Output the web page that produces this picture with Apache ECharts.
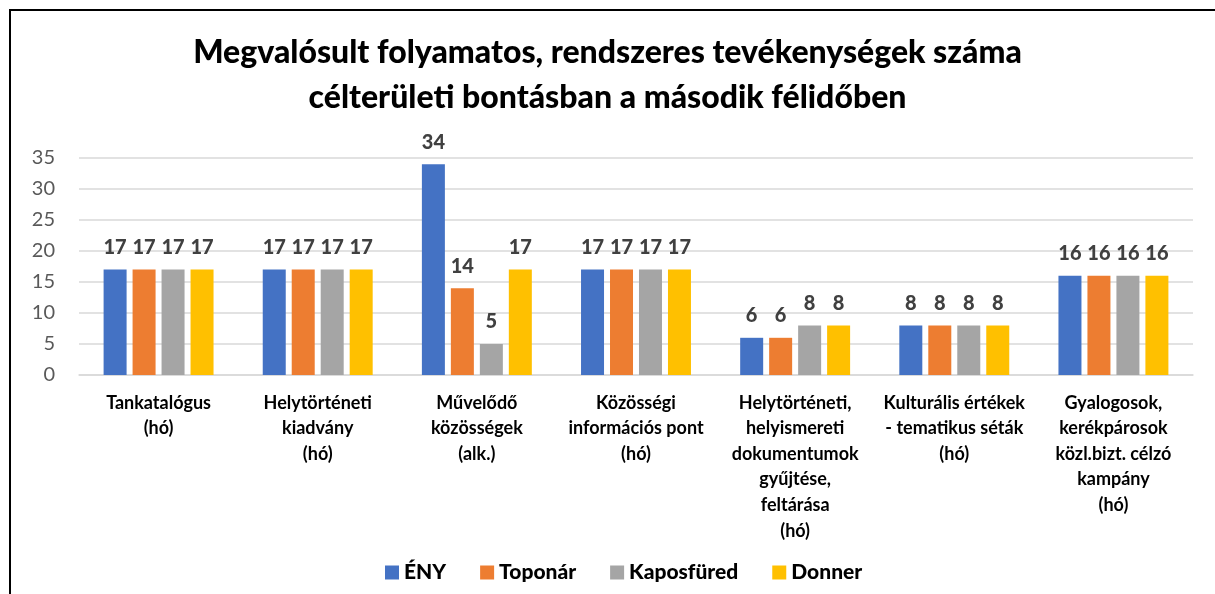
<!DOCTYPE html>
<html>
<head>
<meta charset="utf-8">
<script src="https://cdn.jsdelivr.net/npm/echarts@6/dist/echarts.min.js"></script>
<style>
  body { margin: 0; background: #fff; }
  #frame { position: absolute; left: 9px; top: 9px; width: 1210px; height: 600px; border: 2px solid #000; box-sizing: border-box; }
  #chart { position: absolute; left: 0; top: 0; width: 1215px; height: 594px; }
</style>
</head>
<body>
<div id="frame"></div>
<div id="chart"></div>
<script>
const categories = [
  'Tankatalógus\n(hó)',
  'Helytörténeti\nkiadvány\n(hó)',
  'Művelődő\nközösségek\n(alk.)',
  'Közösségi\ninformációs pont\n(hó)',
  'Helytörténeti,\nhelyismereti\ndokumentumok\ngyűjtése,\nfeltárása\n(hó)',
  'Kulturális értékek\n- tematikus séták\n(hó)',
  'Gyalogosok,\nkerékpárosok\nközl.bizt. célzó\nkampány\n(hó)'
]
const eny = [17, 17, 34, 17, 6, 8, 16]
const toponar = [17, 17, 14, 17, 6, 8, 16]
const kaposfured = [17, 17, 5, 17, 8, 8, 16]
const donner = [17, 17, 17, 17, 8, 8, 16]

const font = 'Lato, "Open Sans", sans-serif'

function bar(name, data, color) {
  return {
    name: name,
    type: 'bar',
    data: data,
    barWidth: 23,
    barGap: '26%',
    itemStyle: { color: color },
    label: {
      show: true,
      position: 'top',
      distance: 12,
      color: '#404040',
      fontFamily: font,
      fontWeight: 900,
      fontSize: 20
    }
  }
}

const chart = echarts.init(document.getElementById('chart'))
const option = {
  animation: false,
  textStyle: { fontFamily: font },
  title: {
    text: 'Megvalósult folyamatos, rendszeres tevékenységek száma\ncélterületi bontásban a második félidőben',
    left: 'center',
    top: 25,
    textStyle: {
      fontFamily: font,
      fontWeight: 900,
      fontSize: 32,
      lineHeight: 45,
      color: '#000'
    }
  },
  legend: {
    bottom: 6,
    left: 380,
    itemWidth: 14,
    itemHeight: 14,
    itemGap: 34,
    icon: 'rect',
    textStyle: { fontFamily: font, fontWeight: 900, fontSize: 21, color: '#000' },
    data: ['ÉNY', 'Toponár', 'Kaposfüred', 'Donner']
  },
  grid: {
    left: 79,
    right: 22,
    top: 158,
    bottom: 219
  },
  xAxis: {
    type: 'category',
    data: categories,
    axisLine: { lineStyle: { color: '#d9d9d9', width: 1.5 } },
    axisTick: { show: false },
    axisLabel: {
      interval: 0,
      margin: 15,
      fontFamily: font,
      fontWeight: 'bold',
      fontSize: 18,
      lineHeight: 25.6,
      color: '#000'
    }
  },
  yAxis: {
    type: 'value',
    min: 0,
    max: 35,
    interval: 5,
    axisLine: { show: false },
    axisTick: { show: false },
    splitLine: { lineStyle: { color: '#d9d9d9', width: 1.5 } },
    axisLabel: {
      margin: 24,
      fontFamily: font,
      fontSize: 20,
      color: '#595959'
    }
  },
  series: [
    bar('ÉNY', eny, '#4472C4'),
    bar('Toponár', toponar, '#ED7D31'),
    bar('Kaposfüred', kaposfured, '#A5A5A5'),
    bar('Donner', donner, '#FFC000')
  ]
}
chart.setOption(option)
</script>
</body>
</html>
